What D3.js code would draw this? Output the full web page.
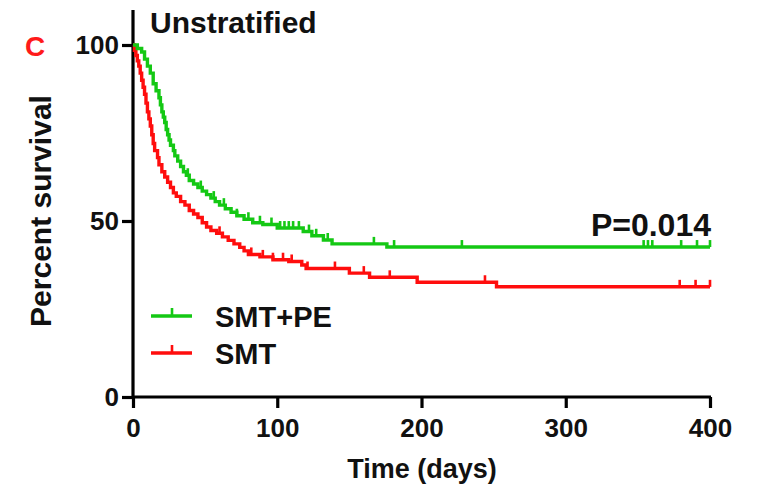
<!DOCTYPE html>
<html><head><meta charset="utf-8">
<script src="https://cdn.jsdelivr.net/npm/d3@7/dist/d3.min.js"></script>
<style>
html,body{margin:0;padding:0;background:#fff;}
text{font-family:"Liberation Sans",Arial,sans-serif;font-weight:bold;}
</style></head>
<body>
<script>
// ---- data ----
const xTicks = [0, 100, 200, 300, 400];
const yTicks = [0, 50, 100];
const seriesNames = ["SMT+PE", "SMT"];

// SMT+PE: [time, survival] at each step
const smtpeTimes = [0,3,6,8,10,12,14,16,18,19,20,21,22,23,24,25,26,28,29,31,33,35,37,39,42,45,48,51,54,57,60,64,68,72,77,83,90,100,118,124,132,138,176];
const smtpeSurv  = [100,99,98,96,94,92,89,87,85,83,81,79.5,78,76,74.5,73,71.5,70,68.5,67,65.5,64,63,61.5,60.5,59.5,58.5,57.5,56.5,55.5,54.5,53.5,52.5,51.5,50.5,49.5,49,48,47,45.8,44.6,43.5,42.6];
const smtpeCensor = [38,47,56,63,72,80,88,96,102,105,108,111,115,122,127,135,167,181,228,354,357,360,380,391,400];

// SMT
const smtTimes = [0,1,2,3,4,5,6,7,8,9,10,11,12,13,14,15,17,18,20,22,24,26,28,30,33,36,39,42,45,48,51,54,58,62,66,70,74,77,80,88,97,108,117,120,150,164,197,252];
const smtSurv  = [100,98.5,97,95.5,94,92,90,88,86,83.5,81,79,77,74.5,72,70,68,66,64,62.5,61,59.5,58,57,55.5,54.5,53,52,51,49.5,48.3,47.3,46.5,45.5,44.5,43.5,42.5,41.5,40.5,39.8,39,38.5,37.5,36.5,35.2,34,32.6,31.3];
const smtCensor = [60,82,90,97,104,110,121,140,160,178,244,379,390,400];

const maxTime = 400;
const pValue = "P=0.014";

// ---- layout ----
const W = 764, H = 490;
const svg = d3.select("body").append("svg").attr("width", W).attr("height", H);

const x = d3.scaleLinear().domain([0, 400]).range([133, 710]);
const y = d3.scaleLinear().domain([0, 100]).range([397, 45]);

const green = "#14c814", red = "#ff0d0d";

// axes
const xAxis = svg.append("g").attr("transform", "translate(0,397)")
  .call(d3.axisBottom(x).tickValues(xTicks).tickSize(11).tickPadding(7).tickFormat(d3.format("d")));
const yAxis = svg.append("g").attr("transform", "translate(133,0)")
  .call(d3.axisLeft(y).tickValues(yTicks).tickSize(11).tickPadding(3).tickFormat(d3.format("d")));
[xAxis, yAxis].forEach(a => {
  a.selectAll("path.domain").remove();
  a.selectAll("line").attr("stroke", "#000").attr("stroke-width", 3.2);
  a.selectAll("text").attr("fill", "#111").style("font-size", "26px").style("font-weight", "bold")
    .style("font-family", "'Liberation Sans',Arial,sans-serif");
});
xAxis.selectAll("text").attr("dy", "0.85em");
// axis lines
svg.append("line").attr("x1", 133).attr("x2", 133).attr("y1", 10).attr("y2", 398)
  .attr("stroke", "#000").attr("stroke-width", 3.2);
svg.append("line").attr("x1", 132).attr("x2", 711).attr("y1", 397).attr("y2", 397)
  .attr("stroke", "#000").attr("stroke-width", 3.2);

// step curves
function stepPath(times, surv) {
  const pts = times.map((t, i) => [t, surv[i]]);
  pts.push([maxTime, surv[surv.length - 1]]);
  return d3.line().x(d => x(d[0])).y(d => y(d[1])).curve(d3.curveStepAfter)(pts);
}
function survAt(times, surv, t) {
  let v = surv[0];
  for (let i = 0; i < times.length; i++) if (times[i] <= t) v = surv[i];
  return v;
}
function drawSeries(times, surv, censor, color) {
  svg.append("path").attr("d", stepPath(times, surv)).attr("fill", "none")
    .attr("stroke", color).attr("stroke-width", 3.4).attr("stroke-linejoin", "miter");
  svg.append("g").selectAll("line").data(censor).join("line")
    .attr("x1", d => x(d)).attr("x2", d => x(d))
    .attr("y1", d => y(survAt(times, surv, d)))
    .attr("y2", d => y(survAt(times, surv, d)) - 7)
    .attr("stroke", color).attr("stroke-width", 2.6);
}
drawSeries(smtTimes, smtSurv, smtCensor, red);
drawSeries(smtpeTimes, smtpeSurv, smtpeCensor, green);

// texts
svg.append("text").attr("x", 150).attr("y", 33).style("font-size", "30px").attr("fill", "#111").text("Unstratified");
svg.append("text").attr("x", 25).attr("y", 56).style("font-size", "28px").attr("fill", "#ff1a1a").text("C");
svg.append("text").attr("transform", "translate(51,211) rotate(-90)").attr("text-anchor", "middle")
  .style("font-size", "30px").attr("fill", "#111").text("Percent survival");
svg.append("text").attr("x", 422).attr("y", 478).attr("text-anchor", "middle")
  .style("font-size", "27px").attr("fill", "#111").text("Time (days)");
svg.append("text").attr("x", 711).attr("y", 236).attr("text-anchor", "end")
  .style("font-size", "32px").attr("fill", "#111").text(pValue);

// legend
const legColors = [green, red];
const leg = svg.append("g").selectAll("g").data(seriesNames).join("g")
  .attr("transform", (d, i) => `translate(151,${316 + i * 37})`);
leg.append("line").attr("x1", 0).attr("x2", 41).attr("y1", 0).attr("y2", 0)
  .attr("stroke", (d, i) => legColors[i]).attr("stroke-width", 3.4);
leg.append("line").attr("x1", 21).attr("x2", 21).attr("y1", 0).attr("y2", -8)
  .attr("stroke", (d, i) => legColors[i]).attr("stroke-width", 2.6);
leg.append("text").attr("x", 64).attr("y", 11).style("font-size", "29px").attr("fill", "#111").text(d => d);
</script>
</body></html>
